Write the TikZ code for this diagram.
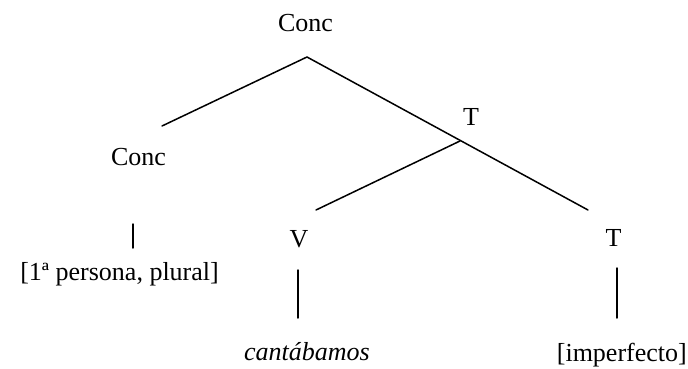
\documentclass[tikz,border=0pt]{standalone}
\usepackage{fontspec}
\setmainfont{Liberation Serif}
\usetikzlibrary{positioning}
\newcommand{\treefont}{\fontsize{26}{30}\selectfont}

\begin{document}
\begin{tikzpicture}[
  x=1pt, y=-1pt,
  cat/.style={font=\treefont, anchor=base, inner sep=0pt},
  term/.style={font=\treefont\itshape, anchor=base, inner sep=0pt},
  branch/.style={line width=1.5pt, line cap=round}
]
  \useasboundingbox (0,0) rectangle (688,369);

  % labels
  \node[cat] (conctop) at (305.5,32) {Conc};
  \node[cat] (tmid)    at (471,125)  {T};
  \node[cat] (concleft) at (138.5,165) {Conc};
  \node[cat] (vnode)   at (299,247)  {V};
  \node[cat] (tright)  at (613.5,246) {T};
  \node[cat, anchor=base east] (persona) at (219,280) {[1ª persona, plural]};
  \node[term] (verb)   at (307,360)  {cantábamos};
  \node[cat, anchor=base east] (imperf) at (687,361) {[imperfecto]};

  % branch points
  \coordinate (topapex) at (307,57);
  \coordinate (leftend) at (162,126);
  \coordinate (rightend) at (588,210);
  \coordinate (tapex) at (460,141);
  \coordinate (vend) at (316,210);
  \coordinate (cl-a) at (133,224);
  \coordinate (cl-b) at (133,248);
  \coordinate (v-a) at (298,270);
  \coordinate (v-b) at (298,318);
  \coordinate (t-a) at (617,268);
  \coordinate (t-b) at (617,318);

  \draw[branch] (leftend) -- (topapex) -- (rightend);
  \draw[branch] (tapex) -- (vend);
  \draw[branch] (cl-a) -- (cl-b);
  \draw[branch] (v-a) -- (v-b);
  \draw[branch] (t-a) -- (t-b);
\end{tikzpicture}
\end{document}
